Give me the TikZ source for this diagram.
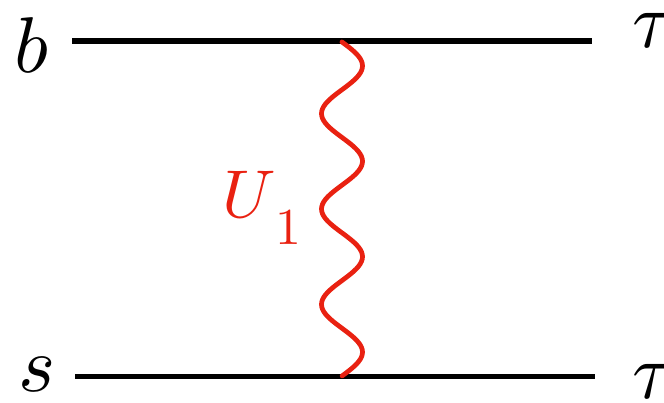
\documentclass[tikz,border=0pt]{standalone}
\usepackage{graphicx}
\definecolor{ured}{RGB}{233,33,17}
\newcommand{\biglabel}[2]{\scalebox{#1}{#2}}
\begin{document}
\begin{tikzpicture}[x=0.02cm, y=-0.02cm,
        quark/.style={line width=3.3pt},
        boson/.style={ured, line width=2.7pt, line cap=round},
        every node/.style={inner sep=0pt, anchor=base west}]
    \useasboundingbox (0,0) rectangle (664,403);
    % external legs
    \coordinate (top-left) at (72,41);
    \coordinate (top-right) at (592,41);
    \coordinate (bot-left) at (75,376.5);
    \coordinate (bot-right) at (595,376.5);
    \draw[quark] (top-left) -- (top-right);
    \draw[quark] (bot-left) -- (bot-right);
    % leptoquark exchange
    \coordinate (vertex-top) at (342,42);
    \coordinate (vertex-bot) at (342,376);
    \draw[boson, shift={(vertex-top)}]
        plot[domain=0:7, samples=141] ({20.5*sin(\x*180)}, {47.71*\x});
    \node (label-b) at (14,72) {\biglabel{4.5}{$b$}};
    \node (label-s) at (18,391) {\biglabel{4.5}{$s$}};
    \node (label-tau-top) at (632,47) {\biglabel{4.5}{$\tau$}};
    \node (label-tau-bot) at (632,398) {\biglabel{4.5}{$\tau$}};
    \node[text=ured] (label-U) at (222,217)
        {\biglabel{3.85}{$U$}\raisebox{-0.56cm}{\biglabel{2.95}{1}}};
\end{tikzpicture}
\end{document}
